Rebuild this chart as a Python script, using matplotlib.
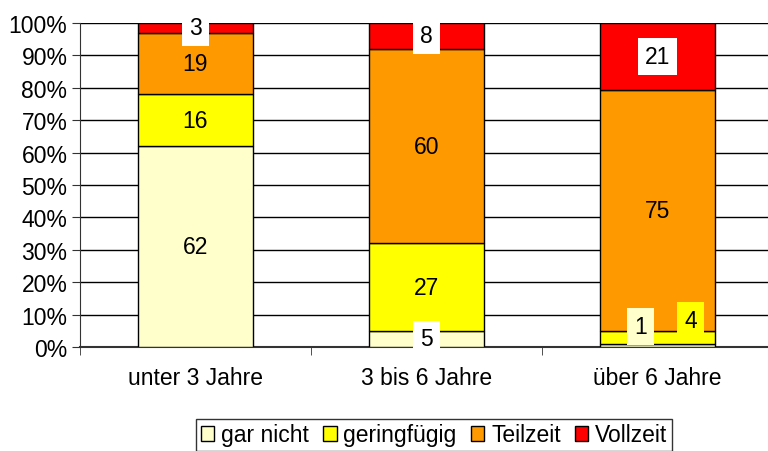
import numpy as np
import matplotlib.pyplot as plt
from matplotlib.ticker import PercentFormatter

plt.rcParams['font.family'] = ['Liberation Sans', 'DejaVu Sans']

categories = ['unter 3 Jahre', '3 bis 6 Jahre', 'über 6 Jahre']
series = ['gar nicht', 'geringfügig', 'Teilzeit', 'Vollzeit']
gar_nicht = [62, 5, 1]
geringfuegig = [16, 27, 4]
teilzeit = [19, 60, 75]
vollzeit = [3, 8, 21]
colors = ['#FFFFCC', '#FFFF00', '#FF9900', '#FF0000']

values = np.array([gar_nicht, geringfuegig, teilzeit, vollzeit], dtype=float)
shares = values / values.sum(axis=0) * 100

fs = 16.5

fig = plt.figure(figsize=(7.68, 4.52), dpi=100)
ax = fig.add_axes([80 / 768, 104 / 452, 693 / 768, 324 / 452])

x = np.arange(len(categories))
bottom = np.zeros(len(categories))
for i in range(len(series)):
    ax.bar(x, shares[i], 0.5, bottom=bottom, color=colors[i], edgecolor='black',
           linewidth=1, label=series[i], zorder=3)
    bottom += shares[i]

# value labels, some with a box like the original
centers = np.cumsum(shares, axis=0) - shares / 2
box_style = {
    (3, 0): 'white', (3, 1): 'white', (3, 2): 'white', (0, 1): 'white',
    (0, 2): '#FFFFCC', (1, 2): '#FFFF00',
}
offsets = {(0, 2): (-17, 19), (1, 2): (33, 17)}
for i in range(len(series)):
    for j in range(len(categories)):
        dx, dy = offsets.get((i, j), (0, 0))
        kw = {}
        if (i, j) in box_style:
            kw['bbox'] = dict(boxstyle='square,pad=0.3', fc=box_style[(i, j)], ec='none')
        ax.annotate('%d' % values[i, j], (x[j], centers[i, j]), xytext=(dx * 0.72, dy * 0.72),
                    textcoords='offset points', ha='center', va='center', fontsize=fs,
                    zorder=6, annotation_clip=False, **kw)

ax.set_xlim(-0.5, 2.5)
ax.set_ylim(0, 100)
ax.set_yticks(np.arange(0, 101, 10))
ax.yaxis.set_major_formatter(PercentFormatter(decimals=0))
ax.set_xticks(x)
ax.set_xticklabels(categories)
ax.set_xticks([-0.5, 0.5, 1.5, 2.5], minor=True)
ax.tick_params(axis='x', which='major', length=0, pad=14, labelsize=fs)
ax.tick_params(axis='x', which='minor', length=6, direction='out', color='#333333')
ax.tick_params(axis='y', length=6, direction='out', color='#333333', labelsize=fs, pad=3)
ax.grid(axis='y', color='black', linewidth=1, zorder=0)
ax.set_axisbelow(True)
for s in ['top', 'right']:
    ax.spines[s].set_visible(False)
ax.spines['left'].set_color('#333333')
ax.spines['bottom'].set_color('#333333')
ax.spines['bottom'].set_linewidth(1.5)

leg = fig.legend(loc='center', bbox_to_anchor=(434 / 768, 1 - 436 / 452), ncol=4, fontsize=fs,
                 frameon=True, fancybox=False, edgecolor='black', handlelength=0.6,
                 handleheight=0.6, handletextpad=0.3, columnspacing=0.6, borderpad=0.2)
leg.get_frame().set_linewidth(1)

fig.savefig('out.png', dpi=100)
